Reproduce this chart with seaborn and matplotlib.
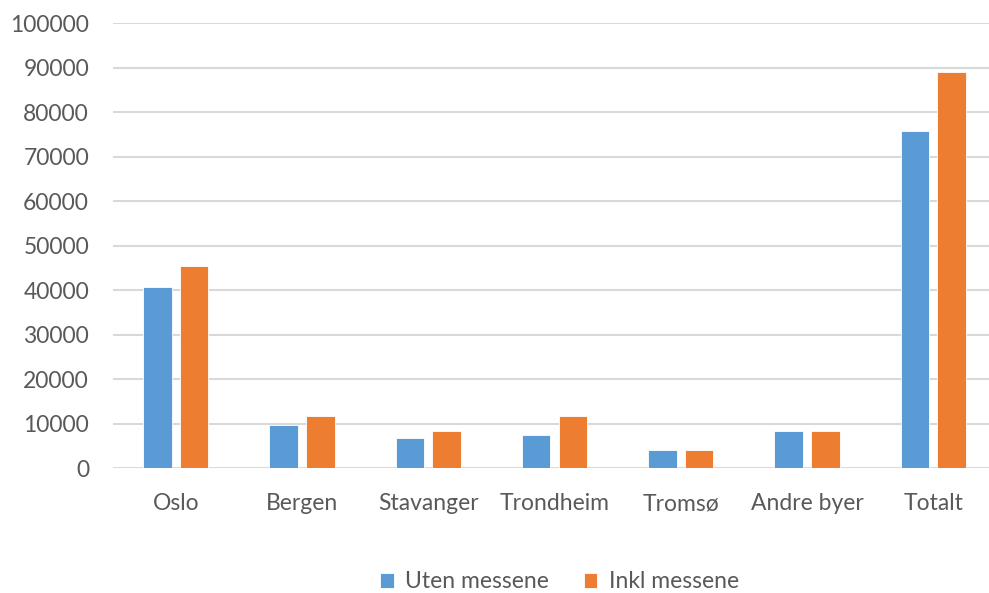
import pandas as pd
import matplotlib.pyplot as plt
import seaborn as sns

# verdier lest av figuren
byer = ["Oslo", "Bergen", "Stavanger", "Trondheim", "Tromsø", "Andre byer", "Totalt"]
uten_messene = [40700, 9800, 6900, 7400, 4000, 8300, 75900]
inkl_messene = [45500, 11700, 8300, 11700, 4000, 8300, 89000]
serier = ["Uten messene", "Inkl messene"]
farger = ["#5B9BD5", "#ED7D31"]

df = pd.DataFrame({
    "by": byer * 2,
    "verdi": uten_messene + inkl_messene,
    "serie": [serier[0]] * len(byer) + [serier[1]] * len(byer),
})

sns.set_style("white")
plt.rcParams["font.family"] = ["Lato", "DejaVu Sans"]
tekstfarge = "#595959"
fs = 16.5

fig = plt.figure(figsize=(9.89, 5.93), dpi=100)
ax = fig.add_axes([112.7 / 989, 1 - 468.3 / 593, (996.3 - 112.7) / 989, 445 / 593])

sns.barplot(data=df, x="by", y="verdi", hue="serie", palette=farger,
            width=0.58, gap=0.22, saturation=1, ax=ax, legend=True,
            edgecolor="white", linewidth=0.6)

ax.set_xlim(-0.5, 6.5)
ax.set_ylim(0, 100000)
ax.set_yticks(range(0, 100001, 10000))
ax.set_yticklabels([str(v) for v in range(0, 100001, 10000)])
ax.yaxis.grid(True, color="#D9D9D9", linewidth=1.5)
ax.set_axisbelow(True)
ax.set_xlabel("")
ax.set_ylabel("")
for s in ax.spines.values():
    s.set_visible(False)
ax.tick_params(axis="y", length=0, pad=17, labelsize=fs, labelcolor=tekstfarge)
ax.tick_params(axis="x", length=0, pad=18, labelsize=fs, labelcolor=tekstfarge)

handles, labels = ax.get_legend_handles_labels()
ax.get_legend().remove()
fig.legend(handles, labels, loc="center", bbox_to_anchor=(559.5 / 989, 1 - 582 / 593),
           ncol=2, frameon=False, fontsize=fs, labelcolor=tekstfarge,
           handlelength=0.6, handleheight=0.6, handletextpad=0.5, columnspacing=1.5)

fig.savefig("out.png", dpi=100)
